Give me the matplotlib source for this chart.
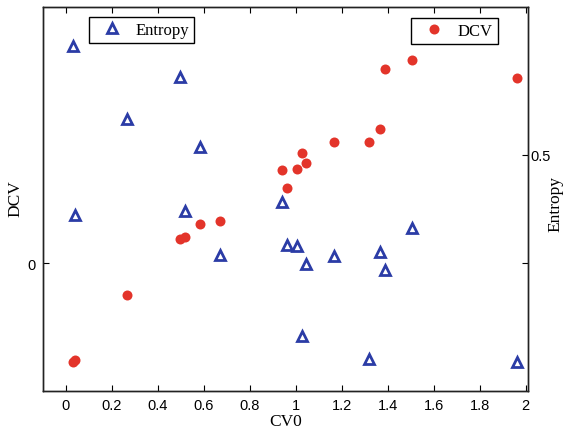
import matplotlib
matplotlib.use("Agg")
import matplotlib.pyplot as plt
import numpy as np

# CV0 values shared by both series
cv0 = [0.029, 0.040, 0.264, 0.496, 0.517, 0.583, 0.670, 0.938, 0.962,
       1.007, 1.026, 1.043, 1.164, 1.319, 1.368, 1.388, 1.507, 1.961]

# DCV (left axis)
dcv = [-0.386, -0.379, -0.124, 0.094, 0.100, 0.152, 0.165, 0.364, 0.293,
       0.367, 0.430, 0.391, 0.474, 0.474, 0.523, 0.758, 0.794, 0.723]

# Entropy (right axis)
entropy = [0.684, 0.398, 0.560, 0.632, 0.404, 0.513, 0.331, 0.420, 0.347,
           0.345, 0.193, 0.315, 0.329, 0.155, 0.335, 0.305, 0.376, 0.149]

x_ticks = [0, 0.2, 0.4, 0.6, 0.8, 1.0, 1.2, 1.4, 1.6, 1.8, 2.0]
x_tick_labels = ['0', '0.2', '0.4', '0.6', '0.8', '1', '1.2', '1.4', '1.6', '1.8', '2']

red = '#e3342a'
blue = '#2b3ca6'
tick_font = 'Liberation Sans'
label_font = 'Liberation Serif'

fig = plt.figure(figsize=(5.72, 4.31), dpi=100)
ax = fig.add_axes([43/572, 39/431, 485/572, 384/431])
ax2 = ax.twinx()

h_dcv, = ax.plot(cv0, dcv, 'o', color=red, markersize=7.2, markeredgewidth=0, label='DCV')
h_ent, = ax2.plot(cv0, entropy, '^', markerfacecolor='none', markeredgecolor=blue,
                  markersize=6.5, markeredgewidth=2, label='Entropy')

ax.set_xlim(-0.1, 2.01)
ax.set_ylim(-0.5, 1.0)
ax2.set_ylim(0.1, 0.75)

ax.set_xticks(x_ticks)
ax.set_xticklabels(x_tick_labels, fontfamily=tick_font, fontsize=10.5)
ax.set_yticks([0])
ax.set_yticklabels(['0'], fontfamily=tick_font, fontsize=10.5)
ax2.set_yticks([0.5])
ax2.set_yticklabels(['0.5'], fontfamily=tick_font, fontsize=10.5)

ax.tick_params(direction='in', length=4, width=0.8, top=True, right=True,
               labelright=False, pad=5)
ax2.tick_params(direction='in', length=4, width=0.8, pad=2)

for a in (ax, ax2):
    for s in a.spines.values():
        s.set_linewidth(1.0)
        s.set_color('#222222')

ax.set_xlabel('CV0', fontfamily=label_font, fontsize=12.5, labelpad=1)
ax.set_ylabel('DCV', fontfamily=label_font, fontsize=12.5)
ax.yaxis.set_label_coords(-0.041, 0.504)
ax2.set_ylabel('Entropy', fontfamily=label_font, fontsize=12.5)
ax2.yaxis.set_label_coords(1.041, 0.49)

leg_kw = dict(prop={'family': label_font, 'size': 12}, fancybox=False,
              edgecolor='black', framealpha=1, handletextpad=0.4,
              borderpad=0.3, handlelength=2.1, borderaxespad=0)
leg1 = ax2.legend(handles=[h_ent], loc='upper left', bbox_to_anchor=(0.095, 0.974), **leg_kw)
leg1.get_frame().set_linewidth(1.0)
ax2.add_artist(leg1)
leg2 = ax2.legend(handles=[h_dcv], loc='upper right', bbox_to_anchor=(0.938, 0.972), **leg_kw)
leg2.get_frame().set_linewidth(1.0)

fig.savefig('out.png', dpi=100)
